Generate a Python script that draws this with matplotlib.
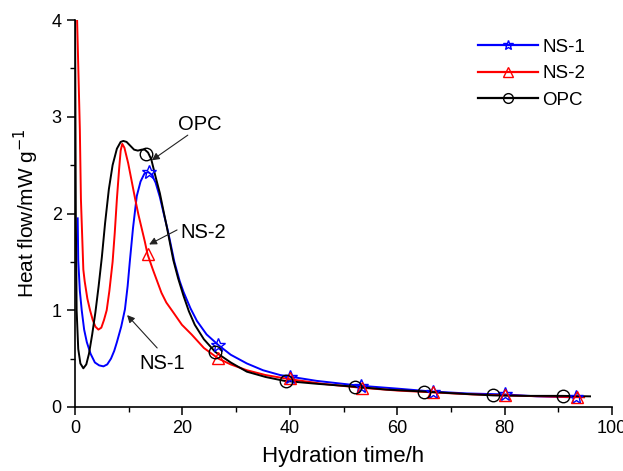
"""Heat flow of NS-1 / NS-2 / OPC pastes against hydration time."""
import matplotlib

matplotlib.use("Agg")

import matplotlib.pyplot as plt  # noqa: E402
from matplotlib.ticker import MultipleLocator  # noqa: E402

plt.rcParams["font.family"] = ["Liberation Sans", "DejaVu Sans"]

# curves (time in h, heat flow in mW/g)
ns1_t = [0.5, 0.6, 0.9, 1.25, 1.7, 2.2, 2.9, 3.7, 4.5, 5.3, 6.0, 6.7, 7.3, 7.8, 8.6, 9.3, 9.8, 10.2,
         10.8, 11.5, 12.2, 12.9, 13.6, 14.3, 15.0, 15.8, 16.6, 17.3, 18.5, 19.5, 20.2, 21.5, 22.7,
         24.5, 26.7, 29.0, 32.0, 35.0, 38.2, 45, 53, 60, 66.5, 73, 80, 86, 93]
ns1_y = [1.95, 1.52, 1.2, 1.0, 0.8, 0.67, 0.55, 0.46, 0.43, 0.42, 0.44, 0.50, 0.58, 0.67, 0.83, 1.01,
         1.25, 1.5, 1.85, 2.18, 2.33, 2.41, 2.43, 2.40, 2.32, 2.17, 1.98, 1.82, 1.50, 1.30, 1.19, 1.02,
         0.89, 0.75, 0.64, 0.54, 0.45, 0.38, 0.33, 0.27, 0.22, 0.19, 0.16, 0.14, 0.13, 0.11, 0.10]

ns2_t = [0.3, 0.9, 1.1, 1.55, 1.8, 2.3, 2.8, 3.3, 3.8, 4.35, 4.9, 5.4, 5.9, 6.4, 7.0, 7.4, 7.8, 8.2,
         8.5, 8.8, 9.2, 9.9, 10.5, 11.2, 11.8, 12.4, 13.0, 13.5, 14.5, 15.3, 16.1, 17.0, 18.4, 19.9,
         21.7, 24.0, 26.7, 29.0, 32.0, 35.5, 39.7, 46, 53, 60, 67, 74, 80, 87, 94.8]
ns2_y = [4.2, 2.87, 2.15, 1.42, 1.3, 1.12, 1.0, 0.9, 0.83, 0.80, 0.82, 0.9, 1.0, 1.2, 1.5, 1.8, 2.15,
         2.45, 2.65, 2.72, 2.68, 2.52, 2.35, 2.15, 1.99, 1.85, 1.71, 1.58, 1.42, 1.30, 1.18, 1.08,
         0.97, 0.85, 0.75, 0.61, 0.50, 0.44, 0.38, 0.33, 0.29, 0.24, 0.20, 0.17, 0.15, 0.13, 0.12,
         0.11, 0.10]

opc_t = [0.0, 0.15, 0.3, 0.6, 1.0, 1.55, 2.1, 2.6, 3.2, 3.8, 4.4, 5.0, 5.6, 6.3, 7.0, 7.8, 8.5, 9.0,
         9.6, 10.3, 11.0, 11.7, 12.4, 13.0, 13.6, 14.2, 15.0, 15.8, 16.5, 17.1, 18.3, 19.2, 20.2,
         21.2, 22.3, 24.0, 26.1, 29.0, 32.0, 35.5, 39.0, 45, 52.1, 58, 64.9, 71, 77.8, 84, 90.8, 95.9]
opc_y = [4.2, 2.0, 1.0, 0.6, 0.45, 0.40, 0.44, 0.55, 0.75, 0.98, 1.25, 1.55, 1.9, 2.25, 2.5, 2.67,
         2.74, 2.75, 2.74, 2.70, 2.66, 2.65, 2.66, 2.66, 2.63, 2.56, 2.38, 2.21, 2.02, 1.86, 1.52,
         1.33, 1.15, 0.99, 0.85, 0.70, 0.57, 0.46, 0.365, 0.31, 0.27, 0.24, 0.21, 0.18, 0.16, 0.14,
         0.12, 0.115, 0.115, 0.11]

# sparse marker positions
ns1_mt = [13.7, 26.7, 40.0, 53.3, 66.6, 80.0, 93.3]
ns1_my = [2.43, 0.64, 0.31, 0.22, 0.16, 0.13, 0.10]
ns2_mt = [13.5, 26.7, 40.0, 53.5, 66.7, 80.0, 93.5]
ns2_my = [1.58, 0.51, 0.30, 0.20, 0.15, 0.12, 0.10]
opc_mt = [13.2, 26.1, 39.2, 52.1, 64.9, 77.8, 90.8]
opc_my = [2.62, 0.57, 0.27, 0.21, 0.16, 0.12, 0.115]

series = [
    ("NS-1", ns1_t, ns1_y, ns1_mt, ns1_my, "#0000ff", "*"),
    ("NS-2", ns2_t, ns2_y, ns2_mt, ns2_my, "#ff0000", "^"),
    ("OPC", opc_t, opc_y, opc_mt, opc_my, "#000000", "o"),
]

fig = plt.figure(figsize=(6.23, 4.71), dpi=100)
ax = fig.add_axes([0.1204, 0.1359, 0.862, 0.8216])

for name, t, y, mt, my, color, marker in series:
    ax.plot(t, y, color=color, lw=1.4, zorder=3)
    ax.plot(mt, my, ls="none", marker=marker, ms=9 if marker != "*" else 10, mfc="none",
            mec=color, mew=1.0, zorder=4)
    ax.plot([], [], color=color, lw=1.6, marker=marker, ms=7, mfc="none", mec=color,
            mew=1.0, label=name)

ax.set_xlim(0, 100)
ax.set_ylim(0, 4)
ax.xaxis.set_major_locator(MultipleLocator(20))
ax.xaxis.set_minor_locator(MultipleLocator(10))
ax.yaxis.set_major_locator(MultipleLocator(1))
ax.yaxis.set_minor_locator(MultipleLocator(0.5))
for side in ("top", "right"):
    ax.spines[side].set_visible(False)
for side in ("left", "bottom"):
    ax.spines[side].set_linewidth(1.2)
ax.tick_params(which="major", direction="out", length=6, width=1.1, labelsize=13)
ax.tick_params(which="minor", direction="out", length=3.5, width=1.0)

ax.set_xlabel("Hydration time/h", fontsize=16, labelpad=6)
ax.set_ylabel("Heat flow/mW g$^{-1}$", fontsize=15, labelpad=8)

ax.legend(loc="upper right", bbox_to_anchor=(0.985, 1.0), frameon=False, fontsize=13.5,
          handlelength=3.2, handletextpad=0.2, labelspacing=0.5, borderaxespad=0.6)

# callouts: label text plus a thin arrow pointing at the curve
arrow = dict(arrowstyle="-|>", color="#222222", lw=0.8, mutation_scale=11, shrinkA=0, shrinkB=0)
labels = [("OPC", (23.3, 2.92), (21.0, 2.81), (14.3, 2.55)),
          ("NS-2", (23.8, 1.80), (19.0, 1.83), (13.8, 1.68)),
          ("NS-1", (16.2, 0.45), (15.3, 0.61), (9.7, 0.95))]
for text, pos, tail, head in labels:
    ax.text(pos[0], pos[1], text, fontsize=14.5, ha="center", va="center")
    ax.annotate("", xy=head, xytext=tail, arrowprops=arrow)

fig.savefig("out.png", dpi=100)
